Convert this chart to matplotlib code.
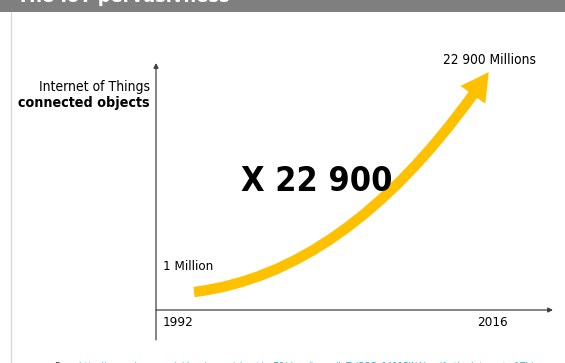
import matplotlib
matplotlib.use("Agg")
import matplotlib.pyplot as plt
from matplotlib.patches import FancyArrowPatch, Rectangle

# growth of IoT connected objects
years = [1992, 2016]
objects = [1, 22900]          # millions
year_labels = ["1992", "2016"]
value_labels = ["1 Million", "22 900 Millions"]

title = "The IoT pervasivness"
source = "http://www.cisco.com/c/dam/en_us/about/ac79/docs/innov/IoT_IBSG_0411FINAL.pdf : the Internet of Things"

font = dict(family="DejaVu Sans", stretch="condensed")
axis_col = "#404040"
arrow_col = "#ffc000"

fig = plt.figure(figsize=(5.65, 3.63), dpi=100)

# slide background: header band, left rule, source line
bg = fig.add_axes([0, 0, 1, 1])
bg.set_xlim(0, 565)
bg.set_ylim(363, 0)
bg.axis("off")
bg.add_patch(Rectangle((0, 0), 565, 12, color="#7f7f7f", lw=0))
bg.plot([10.5, 10.5], [12, 363], color="#d9d9d9", lw=1)
bg.text(17, 2, title, color="white", fontsize=14.3, fontweight="bold",
        va="baseline", **font)
src = bg.text(55, 370.5, "From ", color="#404040", fontsize=7, va="baseline", **font)
bg.annotate(source, xy=(1, 0), xycoords=src, va="bottom", ha="left",
            color="#2fb3bd", fontsize=7, **font)

# chart area
ax = fig.add_axes([156 / 565, 53 / 363, 399 / 565, 247 / 363])
ax.patch.set_visible(False)
for s in ax.spines.values():
    s.set_visible(False)
ax.set_xticks([])
ax.set_yticks([])
ax.set_xlim(1988.9, 2021.4)
ax.set_ylim(-1873, 23837)

# axes with arrow heads
ax.annotate("", xy=(0, 1.0), xytext=(0, -0.121), xycoords="axes fraction",
            arrowprops=dict(arrowstyle="-|>", color=axis_col, lw=0.9,
                            mutation_scale=7, shrinkA=0, shrinkB=0))
ax.annotate("", xy=(0.995, 0), xytext=(0, 0), xycoords="axes fraction",
            arrowprops=dict(arrowstyle="-|>", color=axis_col, lw=0.9,
                            mutation_scale=7, shrinkA=0, shrinkB=0))

# growth arrow
growth = FancyArrowPatch(
    posA=(years[0], objects[0]), posB=(years[1], objects[1]),
    connectionstyle="angle3,angleA=7,angleB=56",
    arrowstyle="simple,head_length=2.0,head_width=2.2,tail_width=0.75",
    mutation_scale=10, color=arrow_col, lw=0, shrinkA=0, shrinkB=0)
ax.add_patch(growth)

# labels
ax.annotate(value_labels[0], xy=(years[0], objects[0]), xytext=(-31, 25),
            textcoords="offset pixels", ha="left", va="center",
            fontsize=9.6, color="black", **font)
ax.annotate(value_labels[1], xy=(years[1], objects[1]), xytext=(1, 12),
            textcoords="offset pixels", ha="center", va="center",
            fontsize=9.8, color="black", **font)

ax.text(0.0175, -0.049, year_labels[0], transform=ax.transAxes,
        ha="left", va="center", fontsize=9.6, **font)
ax.text(0.882, -0.049, year_labels[1], transform=ax.transAxes,
        ha="right", va="center", fontsize=9.6, **font)

ax.text(-0.015, 0.903, "Internet of Things", transform=ax.transAxes,
        ha="right", va="center", fontsize=10, **font)
ax.text(-0.015, 0.838, "connected objects", transform=ax.transAxes,
        ha="right", va="center", fontsize=10.3, fontweight="bold", **font)

ratio = objects[1] // objects[0]
ax.text(0.4035, 0.522, "X " + f"{ratio:,}".replace(",", " "),
        transform=ax.transAxes, ha="center", va="center",
        fontsize=24.5, fontweight="bold", **font)

fig.savefig("out.png", dpi=100)
